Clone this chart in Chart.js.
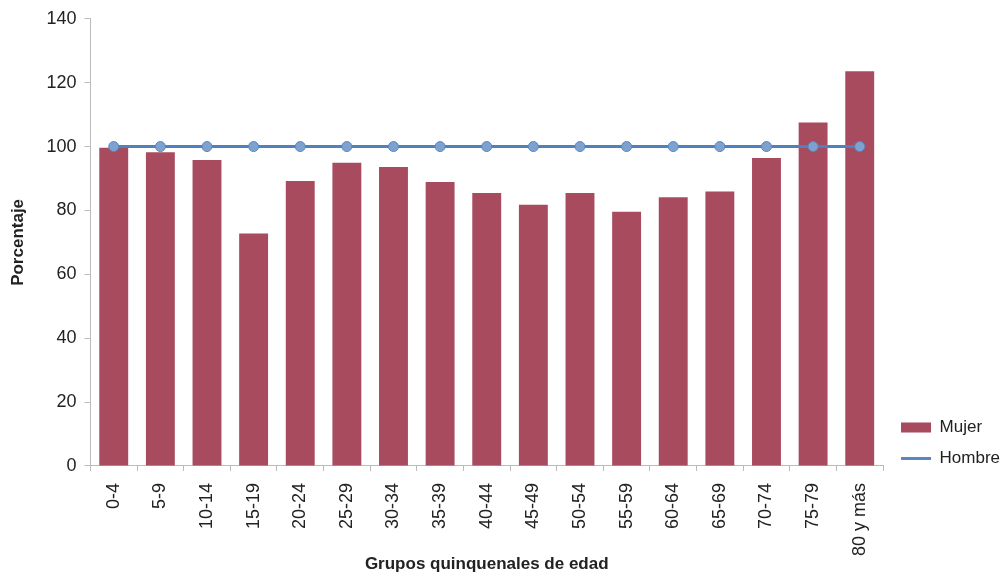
<!DOCTYPE html>
<html>
<head>
<meta charset="utf-8">
<script src="https://cdn.jsdelivr.net/npm/chart.js@4"></script>
<style>
  html, body { margin: 0; padding: 0; background: #fff; }
  #wrap { width: 1006px; height: 575px; }
</style>
</head>
<body>
<div id="wrap"><canvas id="chart"></canvas></div>
<script>
const grupos = ["0-4", "5-9", "10-14", "15-19", "20-24", "25-29", "30-34", "35-39", "40-44",
  "45-49", "50-54", "55-59", "60-64", "65-69", "70-74", "75-79", "80 y más"];
const mujer = [99.6, 98.2, 95.8, 72.8, 89.2, 94.9, 93.6, 88.9, 85.5,
  81.8, 85.5, 79.6, 84.1, 85.9, 96.4, 107.5, 123.6];
const hombre = [100, 100, 100, 100, 100, 100, 100, 100, 100,
  100, 100, 100, 100, 100, 100, 100, 100];
const yTicks = [0, 20, 40, 60, 80, 100, 120, 140];

const FONT = "'Liberation Sans', Arial, sans-serif";

// push the legend items down next to the x axis, as in the original
const legendShift = {
  id: "legendShift",
  afterLayout(chart) {
    if (chart.legend) {
      chart.legend.bottom += 15;
      chart.legend.left += 4;
    }
  }
};

new Chart(document.getElementById("chart"), {
  type: "bar",
  data: {
    labels: grupos,
    datasets: [{
      label: "Mujer",
      data: mujer,
      backgroundColor: "#a84b5e",
      categoryPercentage: 1,
      barPercentage: 0.62,
      order: 1
    }, {
      label: "Hombre",
      type: "line",
      data: hombre,
      borderColor: "#4f81bd",
      borderWidth: 3,
      pointRadius: 5,
      pointBackgroundColor: "#7ea2cf",
      pointBorderColor: "#5a87c0",
      pointBorderWidth: 1,
      order: 0
    }]
  },
  plugins: [legendShift],
  options: {
    responsive: true,
    maintainAspectRatio: false,
    animation: false,
    layout: { padding: { top: 14, left: 8, right: 0, bottom: 0 } },
    plugins: {
      tooltip: { enabled: false },
      legend: {
        position: "right",
        align: "end",
        fullSize: false,
        labels: {
          font: { family: FONT, size: 17 },
          color: "#222",
          usePointStyle: true,
          pointStyleWidth: 30,
          boxHeight: 10,
          padding: 14,
          generateLabels: function (chart) {
            const items = Chart.defaults.plugins.legend.labels.generateLabels(chart);
            items.sort((a, b) => a.datasetIndex - b.datasetIndex);
            items.forEach(it => {
              if (it.datasetIndex === 0) { it.pointStyle = "rect"; it.lineWidth = 0; }
              else { it.pointStyle = "line"; it.lineWidth = 3; }
            });
            return items;
          }
        }
      }
    },
    scales: {
      x: {
        ticks: {
          font: { family: FONT, size: 18 },
          color: "#222",
          minRotation: 90,
          maxRotation: 90,
          autoSkip: false,
          padding: 12
        },
        grid: { display: true, drawOnChartArea: false, tickLength: 5, color: "#bbb" },
        border: { color: "#bbb" },
        title: {
          display: true,
          text: "Grupos quinquenales de edad",
          font: { family: FONT, size: 17, weight: "bold", lineHeight: 1.0 },
          color: "#222",
          padding: { top: -12, bottom: 2 }
        }
      },
      y: {
        min: 0,
        max: 140,
        afterBuildTicks: axis => { axis.ticks = yTicks.map(v => ({ value: v })); },
        ticks: {
          font: { family: FONT, size: 18 },
          color: "#222",
          padding: 8
        },
        grid: { display: true, drawOnChartArea: false, tickLength: 6, color: "#bbb" },
        border: { color: "#bbb" },
        title: {
          display: true,
          text: "Porcentaje",
          font: { family: FONT, size: 17, weight: "bold" },
          color: "#222",
          padding: { top: 0, bottom: 10 }
        }
      }
    }
  }
});
</script>
</body>
</html>
